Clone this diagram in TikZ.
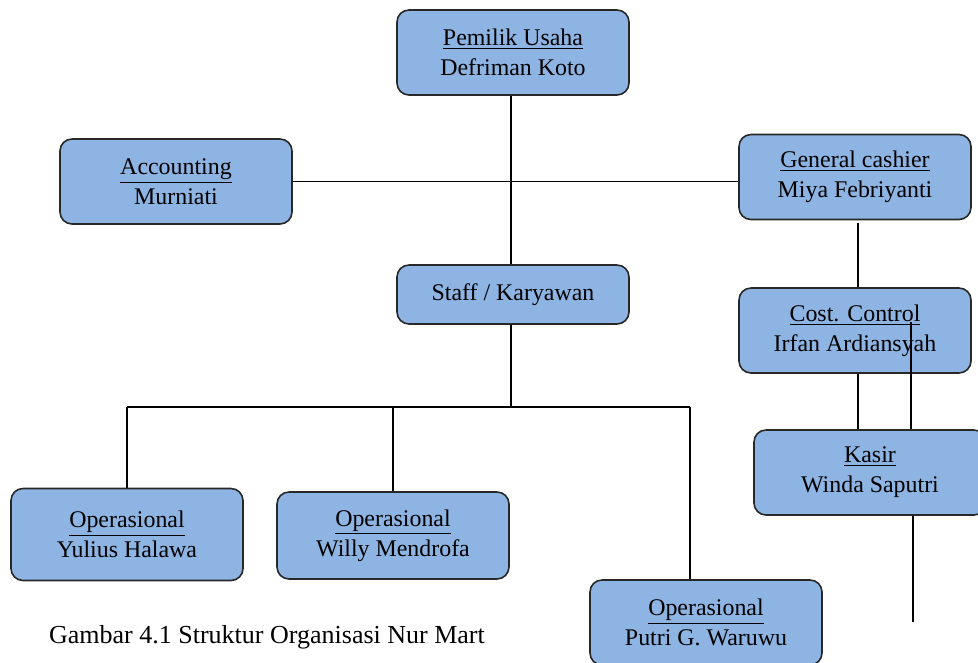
\documentclass[tikz,border=0pt]{standalone}
\usepackage{fontspec}
\setmainfont{Liberation Serif}
\usepackage{xcolor}
\usetikzlibrary{positioning}
\definecolor{boxblue}{RGB}{141,180,226}
\definecolor{boxline}{RGB}{40,40,40}

\begin{document}
\begin{tikzpicture}[
    unit/.style={draw=boxline, fill=boxblue, line width=0.9pt, rounded corners=0.24cm,
      minimum width=4.64cm, minimum height=1.7cm, align=center,
      font=\fontsize{13.6}{17}\selectfont},
    link/.style={draw=black, line width=0.9pt}
]
        \useasboundingbox (0,0) rectangle (19.56,-13.24);
        \clip (0,0) rectangle (19.56,-13.24);

        \node[unit, name=owner] at(10.26,-1.05) {\underline{Pemilik Usaha}\\Defriman Koto};
        \node[unit, name=acc] at(3.52,-3.63) {\underline{Accounting}\\Murniati};
        \node[unit, name=gcash] at(17.10,-3.54) {\underline{General cashier}\\Miya Febriyanti};
        \node[unit, name=staff, minimum height=1.18cm] at(10.26,-5.89) {Staff / Karyawan};
        \node[unit, name=cost] at(17.10,-6.61) {\underline{Cost. Control}\\Irfan Ardiansyah};
        \node[unit, name=kasir] at(17.40,-9.45) {\underline{Kasir}\\Winda Saputri};

        \node[unit, name=op1, minimum height=1.84cm] at(2.54,-10.69) {\underline{Operasional}\\Yulius Halawa};
        \node[unit, name=op2, minimum height=1.74cm] at(7.86,-10.71) {\underline{Operasional}\\Willy Mendrofa};
        \node[unit, name=op3] at(14.12,-12.45) {\underline{Operasional}\\Putri G. Waruwu};

        \node[name=caption, font=\fontsize{14.8}{17}\selectfont] at(5.34,-12.74) {Gambar 4.1 Struktur Organisasi Nur Mart};

        \coordinate (split) at(10.22,-8.14);
        \coordinate (drop3) at(13.80,-8.14);
        \coordinate (cin) at(18.22,-6.44);
        \coordinate (tail) at(18.26,-12.44);

        \draw[link] ([xshift=-0.04cm]owner.south) -- ([xshift=-0.04cm]staff.north);
        \draw[link] (acc.east) -- (gcash.west |- acc.east);
        \draw[link] ([xshift=-0.04cm]staff.south) -- (split);
        \draw[link] (op1.north |- split) -- (drop3);
        \draw[link] (op1.north |- split) -- (op1.north);
        \draw[link] (op2.north |- split) -- (op2.north);
        \draw[link] (drop3) -- (drop3 |- op3.north);

        \draw[link] ([xshift=0.06cm,yshift=-0.06cm]gcash.south) -- ([xshift=0.06cm]cost.north);
        \draw[link] ([xshift=0.06cm]cost.south) -- ([xshift=0.06cm]cost.south |- kasir.north);
        \draw[link] (cin) -- (cin |- kasir.north);
        \draw[link] (kasir.south -| tail) -- (tail);
\end{tikzpicture}
\end{document}
